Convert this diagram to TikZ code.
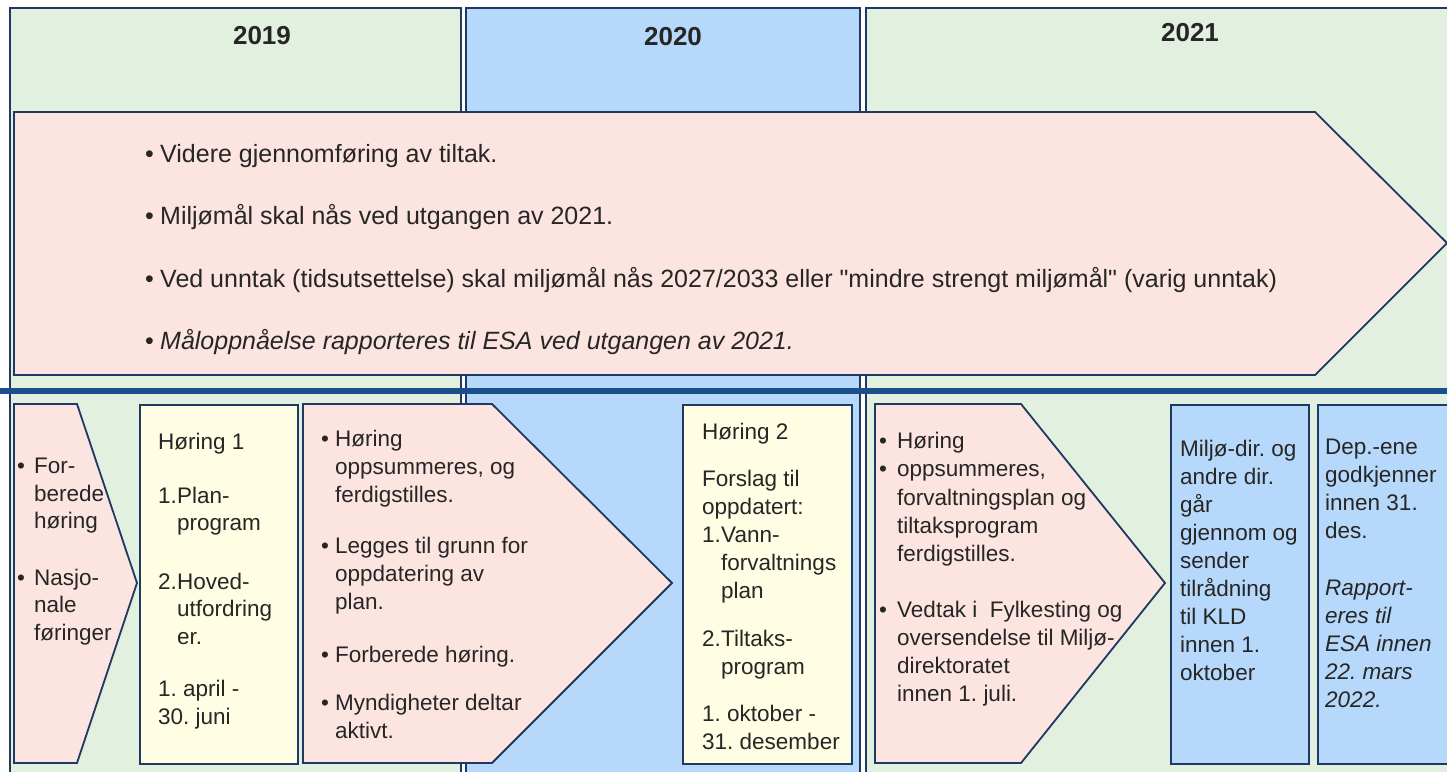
\documentclass[tikz,border=0pt]{standalone}
\usepackage{fontspec}
\setmainfont{Liberation Sans}[Ligatures=TeXOff]
\definecolor{yeargreen}{HTML}{E2F0DF}
\definecolor{yearblue}{HTML}{B6D8FA}
\definecolor{phasepink}{HTML}{FCE4E0}
\definecolor{hearingyellow}{HTML}{FFFDE3}
\definecolor{navyline}{HTML}{1F3864}
\definecolor{bandblue}{HTML}{1B4F8C}
\newcommand{\bulit}[1][18pt]{\makebox[#1][l]{\textbullet}}
\newcommand{\indt}[1][18pt]{\hspace*{#1}}
\newcommand{\numit}[1]{\makebox[19pt][l]{#1}}

\begin{document}
\frenchspacing
\begin{tikzpicture}[x=1pt,y=-1pt,
		yearcol/.style={draw=navyline,line width=2.4pt,anchor=north west,minimum height=800pt,inner sep=0pt},
		yearlabel/.style={font=\fontsize{26}{30}\selectfont\bfseries,text=black!85},
		phasearrow/.style={draw=navyline,line width=1.8pt,fill=phasepink,line join=miter},
		stepframe/.style={draw=navyline,line width=1.8pt,anchor=north west,minimum height=359pt,inner sep=0pt},
		boxtext/.style={anchor=north west,inner sep=0pt,align=left,text=black!85,font=\fontsize{22.5}{28}\selectfont},
		timeband/.style={draw=bandblue,line width=6pt}]
		\useasboundingbox (0,0) rectangle (1447,771);
		% year columns
		\node[yearcol,fill=yeargreen,minimum width=451pt] (y2019) at (9,7) {};
		\node[yearcol,fill=yearblue,minimum width=394pt] (y2020) at (465,7) {};
		\node[yearcol,fill=yeargreen,minimum width=600pt] (y2021) at (865,7) {};
		\node[yearlabel] (l2019) at (262,36) {2019};
		\node[yearlabel] (l2020) at (673,37) {2020};
		\node[yearlabel] (l2021) at (1190,33) {2021};
		% long arrow
		\draw[phasearrow] (14,112) -- (1315,112) -- (1447,243) -- (1315,375) -- (14,375) -- cycle;
		\node[boxtext,font=\fontsize{25}{62.5}\selectfont] (goals) at (145,144) {\bulit[15pt]Videre gjennomføring av tiltak.\\
			\bulit[15pt]Miljømål skal nås ved utgangen av 2021.\\
			\bulit[15pt]Ved unntak (tidsutsettelse) skal miljømål nås 2027/2033 eller "mindre strengt miljømål" (varig unntak)\\
			\bulit[15pt]\textit{Måloppnåelse rapporteres til ESA ved utgangen av 2021.}};
		\draw[timeband] (0,391) -- (1447,391);
		% steps
		\draw[phasearrow] (14,404) -- (77,404) -- (137,583) -- (77,763) -- (14,763) -- cycle;
		\node[boxtext,font=\fontsize{22.5}{27.5}\selectfont] (prep) at (17,458) {\bulit[17pt]For-\\ \indt[17pt]berede\\ \indt[17pt]høring\\[29pt]
			\bulit[17pt]Nasjo-\\ \indt[17pt]nale\\ \indt[17pt]føringer};
		\node[stepframe,fill=hearingyellow,minimum width=158pt] (h1) at (139,404) {};
		\node[boxtext,font=\fontsize{22.5}{27.5}\selectfont] (h1txt) at (158,433) {Høring 1\\[26pt]
			\numit{1.}Plan-\\ \indt[19pt]program\\[31pt]
			\numit{2.}Hoved-\\ \indt[19pt]utfordring\\ \indt[19pt]er.\\[25pt]
			1. april -\\ 30. juni};
		\draw[phasearrow] (303,404) -- (492,404) -- (672,583) -- (492,763) -- (303,763) -- cycle;
		\node[boxtext] (sum1) at (321,430) {\bulit[14pt]Høring\\ \indt[14pt]oppsummeres, og\\ \indt[14pt]ferdigstilles.\\[23pt]
			\bulit[14pt]Legges til grunn for\\ \indt[14pt]oppdatering av\\ \indt[14pt]plan.\\[25pt]
			\bulit[14pt]Forberede høring.\\[20pt]
			\bulit[14pt]Myndigheter deltar\\ \indt[14pt]aktivt.};
		\node[stepframe,fill=hearingyellow,minimum width=169pt] (h2) at (682,404) {};
		\node[boxtext] (h2txt) at (702,423) {Høring 2\\[19pt]
			Forslag til\\ oppdatert:\\ \numit{1.}Vann-\\ \indt[19pt]forvaltnings\\ \indt[19pt]plan\\[20pt]
			\numit{2.}Tiltaks-\\ \indt[19pt]program\\[19pt]
			1. oktober -\\ 31. desember};
		\draw[phasearrow] (875,404) -- (1021,404) -- (1165,583) -- (1021,763) -- (875,763) -- cycle;
		\node[boxtext,font=\fontsize{22.5}{28.3}\selectfont] (sum2) at (879,432) {\bulit Høring\\ \bulit oppsummeres,\\ \indt forvaltningsplan og\\ \indt tiltaksprogram\\ \indt ferdigstilles.\\[27pt]
			\bulit Vedtak i\ \ Fylkesting og\\ \indt oversendelse til Miljø-\\ \indt direktoratet\\ \indt innen 1. juli.};
		\node[stepframe,fill=yearblue,minimum width=138pt] (dir) at (1170,404) {};
		\node[boxtext] (dirtxt) at (1180,440) {Miljø-dir. og\\ andre dir.\\ går\\ gjennom og\\ sender\\ tilrådning\\ til KLD\\ innen 1.\\ oktober};
		\node[stepframe,fill=yearblue,minimum width=160pt] (dep) at (1317,404) {};
		\node[boxtext] (deptxt) at (1325,439) {Dep.-ene\\ godkjenner\\ innen 31.\\ des.\\[29pt]
			\textit{Rapport-}\\ \textit{eres til}\\ \textit{ESA innen}\\ \textit{22. mars}\\ \textit{2022.}};
	\end{tikzpicture}
\end{document}
